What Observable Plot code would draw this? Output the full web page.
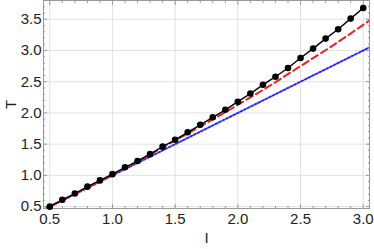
<!DOCTYPE html>
<html><head><meta charset="utf-8">
<script src="https://cdn.jsdelivr.net/npm/d3@7"></script>
<script src="https://cdn.jsdelivr.net/npm/@observablehq/plot@0.6"></script>
<style>body{margin:0;background:#fff}</style>
</head><body><div id="chart"></div>
<script>
// Black series (points + line)
const I_black = [0.5,0.6,0.7,0.8,0.9,1.0,1.1,1.2,1.3,1.4,1.5,1.6,1.7,1.8,1.9,2.0,2.1,2.2,2.3,2.4,2.5,2.6,2.7,2.8,2.9,3.0];
const T_black = [0.50,0.61,0.71,0.82,0.92,1.02,1.13,1.23,1.34,1.46,1.57,1.69,1.81,1.93,2.05,2.18,2.31,2.45,2.58,2.72,2.88,3.03,3.19,3.34,3.51,3.68];
// Red dashed series
const I_red = [0.45,0.5,0.75,1.0,1.25,1.5,1.75,2.0,2.25,2.5,2.75,3.0,3.05];
const T_red = [0.45,0.50,0.75,1.01,1.28,1.56,1.84,2.13,2.43,2.75,3.07,3.41,3.48];
// Blue dotted series
const I_blue = [0.45,3.05];
const T_blue = [0.45,3.05];
// Ticks
const majorX = [0.5,1.0,1.5,2.0,2.5,3.0];
const majorY = [0.5,1.0,1.5,2.0,2.5,3.0,3.5];
const minorX = d3.range(5,31).map(v => v/10).filter(v => !majorX.includes(v));
const minorY = d3.range(5,38).map(v => v/10).filter(v => !majorY.includes(v));

const black = I_black.map((x,i) => ({x, y:T_black[i]}));
const red = I_red.map((x,i) => ({x, y:T_red[i]}));
const blue = I_blue.map((x,i) => ({x, y:T_blue[i]}));

const fmt = d3.format(".1f");
const tickStroke = "#999";

const chart = Plot.plot({
  width: 374, height: 249,
  marginLeft: 43, marginRight: 5, marginTop: 0, marginBottom: 41,
  style: {fontFamily: "'Liberation Sans', Arial, sans-serif", fontSize: "15px", color: "#222", background: "white"},
  x: {domain: [0.45, 3.05]},
  y: {domain: [0.47, 3.80]},
  marks: [
    Plot.gridX(majorX, {stroke: "#e2e2e2", strokeOpacity: 1}),
    Plot.gridY(majorY, {stroke: "#e2e2e2", strokeOpacity: 1}),
    Plot.axisX(majorX, {anchor: "bottom", tickSize: -4, stroke: tickStroke, text: null, label: null}),
    Plot.axisX(minorX, {anchor: "bottom", tickSize: -2, stroke: tickStroke, text: null, label: null}),
    Plot.axisX(majorX, {anchor: "top", tickSize: -4, stroke: tickStroke, text: null, label: null}),
    Plot.axisX(minorX, {anchor: "top", tickSize: -2, stroke: tickStroke, text: null, label: null}),
    Plot.axisY(majorY, {anchor: "left", tickSize: -4, stroke: tickStroke, text: null, label: null}),
    Plot.axisY(minorY, {anchor: "left", tickSize: -2, stroke: tickStroke, text: null, label: null}),
    Plot.axisY(majorY, {anchor: "right", tickSize: -4, stroke: tickStroke, text: null, label: null}),
    Plot.axisY(minorY, {anchor: "right", tickSize: -2, stroke: tickStroke, text: null, label: null}),
    Plot.axisX(majorX, {anchor: "bottom", tickSize: 0, tickPadding: 5, tickFormat: fmt, fontSize: 15, fill: "#222",
      label: "I", labelAnchor: "center", labelArrow: "none", labelOffset: 34}),
    Plot.axisY(majorY, {anchor: "left", tickSize: 0, tickPadding: 2, tickFormat: fmt, fontSize: 15, fill: "#222",
      label: "T", labelAnchor: "center", labelArrow: "none", labelOffset: 38}),
    Plot.frame({stroke: "#999"}),
    Plot.line(blue, {x: "x", y: "y", stroke: "#2b2bff", strokeWidth: 2, strokeDasharray: "2,2", clip: true}),
    Plot.line(red, {x: "x", y: "y", stroke: "#f01e1e", strokeWidth: 2, strokeDasharray: "7,4", curve: "catmull-rom", clip: true}),
    Plot.line(black, {x: "x", y: "y", stroke: "#000", strokeWidth: 1.4}),
    Plot.dot(black, {x: "x", y: "y", r: 3.3, fill: "#000"})
  ]
});
document.getElementById("chart").append(chart);
</script>
</body></html>
